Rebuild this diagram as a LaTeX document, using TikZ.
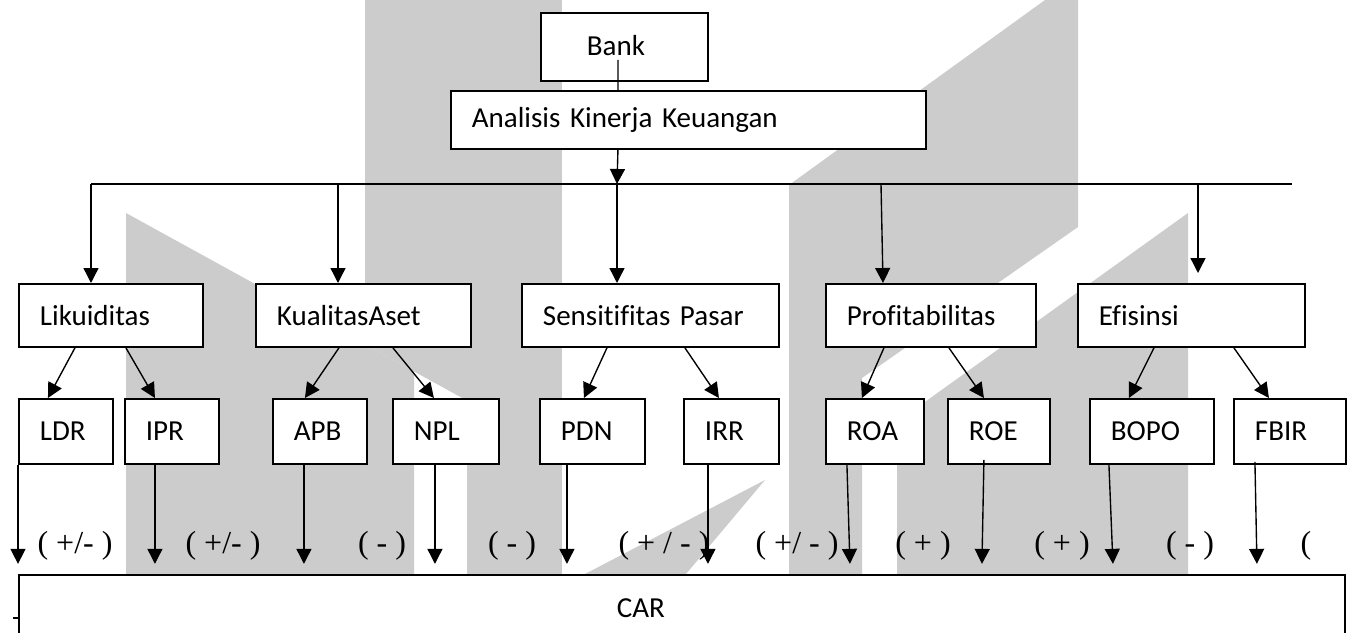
\documentclass[tikz,border=0pt]{standalone}
\usepackage{fontspec}
\setmainfont{Carlito}[Ligatures={NoCommon}]
\newfontfamily\lserif{Liberation Serif}
\usetikzlibrary{arrows.meta,calc}
\tikzset{
  wm/.style={fill=black!20, draw=none},
  bx/.style={draw, fill=white, line width=0.75pt, inner xsep=8.4pt, inner ysep=0pt,
             align=left, anchor=north west, font=\fontsize{11.6}{13}\selectfont},
  arr/.style={line width=0.55pt, -{Triangle[length=6pt,width=6pt]}},
  ln/.style={line width=0.7pt},
  thin line/.style={line width=0.55pt},
  sg/.style={font=\lserif\fontsize{12.8}{14}\selectfont, inner sep=0pt},
}
\begin{document}
\begin{tikzpicture}[x=0.4pt, y=-0.4pt]
\useasboundingbox (0,0) rectangle (1347,633);
% watermark
\fill[wm] (365,0) -- (467,0) -- (467,400.6) -- (365,344.5) -- cycle;
\fill[wm] (126,213) -- (414,371.4) -- (414,633) -- (126,633) -- cycle;
\fill[wm] (467,0) -- (562,0) -- (562,633) -- (467,633) -- cycle;
\fill[wm] (789,185) -- (1045,0) -- (1078,0) -- (1078,227) -- (862,378) -- (862,633) -- (789,633) -- cycle;
\fill[wm] (1188,213) -- (1188,633) -- (897,633) -- (897,422) -- cycle;
\fill[wm] (765,480) -- (686,574) -- (585,574) -- cycle;
% boxes
\node[bx, inner xsep=18.4pt, text width=30pt, minimum height=27.2pt] (bank) at (540,12) {\raisebox{1.6pt}{Bank}};
\node[bx, text width=173.2pt, minimum height=23.2pt] (ana) at (450,90) {Analisis Kinerja Keuangan};
\node[bx, text width=56.8pt, minimum height=25.2pt] (lik) at (18,283) {Likuiditas};
\node[bx, text width=69.2pt, minimum height=25.2pt] (kua) at (255,283) {KualitasAset};
\node[bx, text width=86pt, minimum height=25.2pt] (sen) at (521,283) {Sensitifitas Pasar};
\node[bx, text width=67.2pt, minimum height=25.2pt] (pro) at (825,283) {Profitabilitas};
\node[bx, text width=74pt, minimum height=25.2pt] (efi) at (1077,283) {Efisinsi};
\node[bx, text width=20.8pt, minimum height=26pt] (ldr) at (18,398) {LDR};
\node[bx, text width=20.8pt, minimum height=26pt] (ipr) at (124,398) {IPR};
\node[bx, text width=20.8pt, minimum height=26pt] (apb) at (272,398) {APB};
\node[bx, text width=25.6pt, minimum height=26pt] (npl) at (392,398) {NPL};
\node[bx, text width=25.2pt, minimum height=26pt] (pdn) at (539,398) {PDN};
\node[bx, text width=21.2pt, minimum height=26pt] (irr) at (683,398) {IRR};
\node[bx, text width=22.4pt, minimum height=26pt] (roa) at (825,398) {ROA};
\node[bx, text width=24pt, minimum height=26pt] (roe) at (947,398) {ROE};
\node[bx, text width=32.8pt, minimum height=26pt] (bopo) at (1089,398) {BOPO};
\node[bx, text width=28pt, minimum height=26pt] (fbir) at (1233,398) {FBIR};
\node[bx, text width=513.6pt, minimum height=26.4pt] (car) at (18,574) {\hspace*{230.8pt}CAR};
% top connectors
\coordinate (busL) at (91,184);
\coordinate (busR) at (1292,184);
\coordinate (b2) at (338,184);
\coordinate (b3) at (617,184);
\coordinate (b4) at (881,184);
\coordinate (b5) at (1198,184);
\draw[thin line] ($(bank.south)+(-6.5,-22)$) -- ($(ana.north)+(-70.5,0)$);
\draw[arr] ($(ana.south)+(-70.5,0)$) -- (b3);
\draw[ln] (busL) -- (busR);
\draw[arr] (busL) -- (busL |- lik.north);
\draw[arr] (b2) -- (b2 |- kua.north);
\draw[arr] (b3) -- (b3 |- sen.north);
\draw[arr] (b4) -- ($(b4 |- pro.north)+(2,0)$);
\draw[arr] (b5) -- ($(b5 |- efi.north)+(0,-10)$);
% diagonal connectors
\draw[arr] ($(lik.south)+(-36,0)$) -- ($(ldr.north)+(-18,0)$);
\draw[arr] ($(lik.south)+(15,0)$) -- ($(ipr.north)+(-17,0)$);
\draw[arr] ($(kua.south)+(-24.5,0)$) -- ($(apb.north)+(-15,0)$);
\draw[arr] ($(kua.south)+(29.5,0)$) -- ($(npl.north)+(-12,0)$);
\draw[arr] ($(sen.south)+(-43.5,0)$) -- ($(pdn.north)+(-8.5,0)$);
\draw[arr] ($(sen.south)+(34.5,0)$) -- ($(irr.north)+(-12.5,0)$);
\draw[arr] ($(pro.south)+(-47,0)$) -- ($(roa.north)+(-13,0)$);
\draw[arr] ($(pro.south)+(18,0)$) -- ($(roe.north)+(-15,0)$);
\draw[arr] ($(efi.south)+(-37.5,0)$) -- ($(bopo.north)+(-23,0)$);
\draw[arr] ($(efi.south)+(42.5,0)$) -- ($(fbir.north)+(-21,0)$);
% down to CAR
\draw[arr] (ldr.south west) -- ($(ldr.south west)+(0,99)$);
\draw[arr] ($(ipr.south)+(-17,0)$) -- ($(ipr.south)+(-17,99)$);
\draw[arr] ($(apb.south)+(-16,0)$) -- ($(apb.south)+(-16,99)$);
\draw[arr] ($(npl.south)+(-11,0)$) -- ($(npl.south)+(-11,99)$);
\draw[arr] ($(pdn.south)+(-25.5,0)$) -- ($(pdn.south)+(-25.5,99)$);
\draw[arr] ($(irr.south)+(-23.5,0)$) -- ($(irr.south)+(-23.5,99)$);
\draw[arr] ($(roa.south)+(-28,0)$) -- ($(roa.south)+(-25,99)$);
\draw[arr] ($(roe.south)+(-15,-5)$) -- ($(roe.south)+(-17,99)$);
\draw[arr] ($(bopo.south)+(-43,0)$) -- ($(bopo.south)+(-39,99)$);
\draw[arr] ($(fbir.south)+(-35,-3)$) -- ($(fbir.south)+(-33,99)$);
\draw[thin line] ($(car.north west)+(-5,44)$) -- ($(car.north west)+(0,44)$);
% sign labels
\node[sg] (s1) at (75,546) {( +/- )};
\node[sg] (s2) at (223,546) {( +/- )};
\node[sg] (s3) at (382,546) {( - )};
\node[sg] (s4) at (512,546) {( - )};
\node[sg] (s5) at (664,546) {( + / - )};
\node[sg] (s6) at (797,546) {( +/ - )};
\node[sg] (s7) at (923,546) {( + )};
\node[sg] (s8) at (1062,546) {( + )};
\node[sg] (s9) at (1190,546) {( - )};
\node[sg] (s10) at (1306,546) {(};
\end{tikzpicture}
\end{document}
